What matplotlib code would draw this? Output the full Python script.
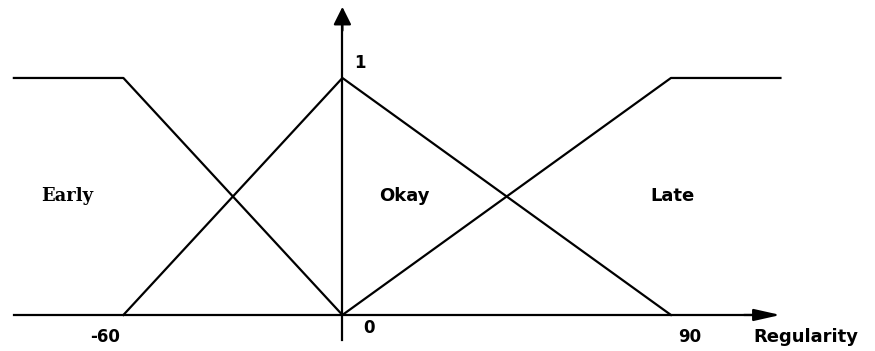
import matplotlib.pyplot as plt

# membership functions (x = minutes early/late, y = membership degree)
early_x = [-90, -60, 0]
early_y = [1, 1, 0]
okay_x = [-60, 0, 90]
okay_y = [0, 1, 0]
late_x = [0, 90, 120]
late_y = [0, 1, 1]

tick_vals = [-60, 0, 90]
tick_labels = ["-60", "0", "90"]
set_names = ["Early", "Okay", "Late"]
set_label_x = [-75.5, 17, 90.3]

plt.rcParams['font.family'] = ['DejaVu Sans']

fig = plt.figure(figsize=(8.75, 3.51), dpi=100)
ax = fig.add_axes([0, 0, 1, 1])
ax.set_xlim(-93.8, 145.9)
ax.set_ylim(-0.152, 1.329)
ax.axis('off')

lw = 1.6
ax.plot(early_x, early_y, color='black', lw=lw)
ax.plot(okay_x, okay_y, color='black', lw=lw)
ax.plot(late_x, late_y, color='black', lw=lw)

# axes with arrow heads
ax.plot([-90, 112], [0, 0], color='black', lw=lw)
ax.annotate("", xy=(120, 0), xytext=(110, 0),
            arrowprops=dict(arrowstyle='-|>,head_length=0.8,head_width=0.18',
                            color='black', lw=lw, mutation_scale=20, shrinkA=0, shrinkB=0))
ax.plot([0, 0], [-0.105, 1.25], color='black', lw=lw)
ax.annotate("", xy=(0, 1.30), xytext=(0, 1.2),
            arrowprops=dict(arrowstyle='-|>,head_length=0.4,head_width=0.2',
                            color='black', lw=lw, mutation_scale=27, shrinkA=0, shrinkB=0))

# tick labels
offs = {-60: (-5, -0.093), 0: (7.3, -0.055), 90: (5, -0.093)}
for v, t in zip(tick_vals, tick_labels):
    dx, y = offs[v]
    ax.text(v + dx, y, t, ha='center', va='center', fontsize=12, fontweight='bold')
ax.text(4.8, 1.063, "1", ha='center', va='center', fontsize=12, fontweight='bold')
ax.text(127, -0.093, "Regularity", ha='center', va='center', fontsize=13, fontweight='bold')

# fuzzy set names
for name, x in zip(set_names, set_label_x):
    fam = ['DejaVu Serif'] if name == "Early" else ['DejaVu Sans']
    ax.text(x, 0.5, name, ha='center', va='center', fontsize=13,
            fontweight='bold', family=fam)

fig.savefig("out.png", dpi=100)
